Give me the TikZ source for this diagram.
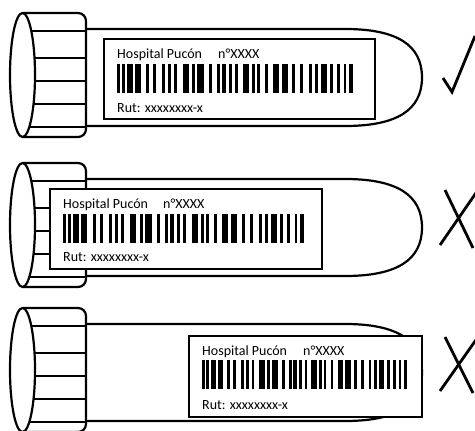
\documentclass[tikz,border=0pt]{standalone}
\usepackage{fontspec}
\setmainfont{Carlito}
\begin{document}
\begin{tikzpicture}[x=1pt,y=-1pt,
  outl/.style={line width=2.2pt, line join=round, draw=black},
  lbl/.style={draw=black, line width=2.5pt, fill=white},
  txt/.style={inner sep=0pt, anchor=base west, text=black, font=\fontsize{14}{16}\selectfont},
  sign/.style={line width=2.8pt, draw=black, line join=miter},
  bar/.style={fill=black}
]
\useasboundingbox (0,0) rectangle (475,431);
\clip (0,0) rectangle (475,431);
\def\barlist{0/3,5/3,10/6,18/6,29/3,36/3,45/3,51/3,57/3,66/6,75/3,80/7,92/3,100/3,105/4,112/3,118/3,126/6,135/3,140/3,148/3,156/6,165/6,175/3,183/3,192/3,198/3,204/6,213/3,220/3,227/2,232/4}
\newcommand\mytube{%
  \draw[outl, fill=white] (80,29) -- (345,29) .. controls (397,29) and (422,45) .. (422,77.5)
     .. controls (422,110) and (397,126) .. (345,126) -- (80,126);
  \draw[outl, fill=white, rounded corners=8pt] (22,13) -- (86,13) -- (86,137) -- (22,137);
  \foreach \yy in {31,58,81,104,127} \draw[outl] (22,\yy) -- (86,\yy);
  \draw[outl, fill=white] (22.5,75) ellipse [x radius=12.5, y radius=62];
}
% ---------- tube 1 ----------
\begin{scope}
  \mytube
  \draw[lbl] (104,39) rectangle (375,119);
  \node[txt] (h1) at (117,58) {Hospital Pucón};
  \node[txt] (n1) at (218,58) {n°XXXX};
  \node[txt] (r1) at (117,112) {Rut: xxxxxxxx-x};
  \begin{scope}[shift={(117,64)}]
    \foreach \x/\w in \barlist \fill[bar] (\x,0) rectangle ++(\w,29);
  \end{scope}
\end{scope}
\draw[sign] (443,78) -- (452,92) -- (475,36);
% ---------- tube 2 ----------
\begin{scope}[shift={(0,150)}]
  \mytube
  \draw[lbl] (50,39) rectangle (322,119);
  \node[txt] (h2) at (63,58) {Hospital Pucón};
  \node[txt] (n2) at (163,58) {n°XXXX};
  \node[txt] (r2) at (63,111) {Rut: xxxxxxxx-x};
  \begin{scope}[shift={(63,64)}, xscale=1.02]
    \foreach \x/\w in \barlist \fill[bar] (\x,0) rectangle ++(\w,29);
  \end{scope}
\end{scope}
\draw[sign] (445,190) -- (473,248);
\draw[sign] (440,245) -- (478,190);
% ---------- tube 3 ----------
\begin{scope}[shift={(0,295)}]
  \mytube
  \draw[lbl] (189,41) rectangle (422,122);
  \node[txt] (h3) at (202,60) {Hospital Pucón};
  \node[txt] (n3) at (303,60) {n°XXXX};
  \node[txt] (r3) at (202,114) {Rut: xxxxxxxx-x};
  \begin{scope}[shift={(202,65)}, xscale=0.869]
    \foreach \x/\w in \barlist \fill[bar] (\x,0) rectangle ++(\w,29);
  \end{scope}
\end{scope}
\draw[sign] (445,337) -- (473,393);
\draw[sign] (440,391) -- (478,337);
\end{tikzpicture}
\end{document}
